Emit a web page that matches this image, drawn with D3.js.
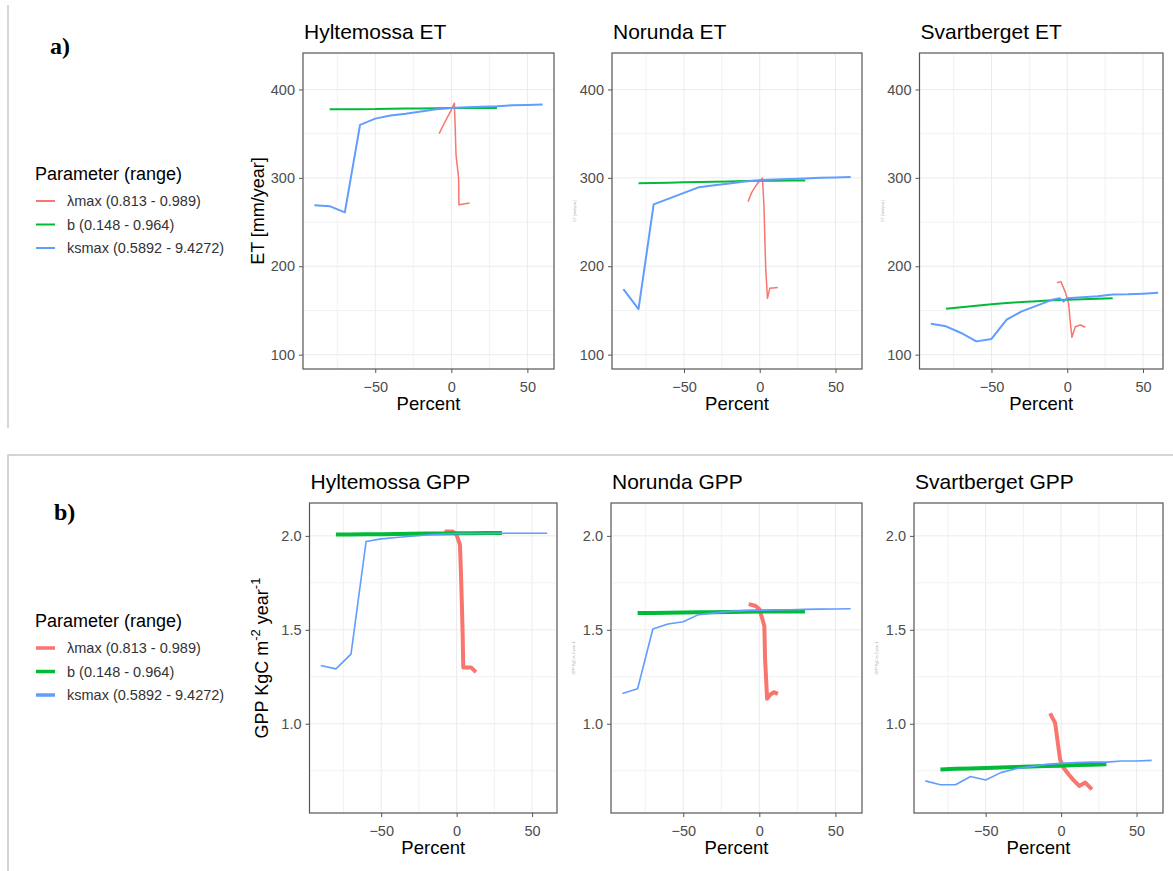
<!DOCTYPE html>
<html>
<head>
<meta charset="utf-8">
<script src="https://cdn.jsdelivr.net/npm/d3@7"></script>
<style>
  body { margin: 0; background: #fff; }
  svg { font-family: "Liberation Sans", Arial, sans-serif; }
</style>
</head>
<body>
<div id="wrapper"></div>
<script>
// ---- data ----
const sites = ["Hyltemossa", "Norunda", "Svartberget"];
const paramLabels = ["λmax (0.813 - 0.989)", "b (0.148 - 0.964)", "ksmax (0.5892 - 9.4272)"];
const paramColors = ["#F8766D", "#00BA38", "#619CFF"];

const ksX = [-90, -80, -70, -60, -50, -40, -30, -20, -10, 0, 10, 20, 30, 40, 50, 60];
const bX = [-80, -70, -60, -50, -40, -30, -20, -10, 0, 10, 20, 30];

// ET [mm/year]
const hylET_ks = [269, 268, 261, 360, 367, 370.5, 372.5, 375, 377.5, 379, 380, 380.5, 381, 382, 382.5, 383];
const hylET_b = [377.5, 377.6, 377.7, 377.8, 378.3, 378.5, 378.6, 378.8, 379, 379, 379, 379];
const hylET_lamX = [-8, -4, 0, 2, 2.6, 3.1, 3.6, 4.8, 5, 8, 12];
const hylET_lam = [350, 364, 377, 384.5, 354, 326, 318, 300, 269.5, 270.5, 271.5];

const noET_ks = [174, 151.5, 270, 276.5, 283, 289.5, 291.7, 293.6, 296, 297.4, 298, 298.6, 299.2, 300, 300.5, 301];
const noET_b = [294, 294.3, 294.6, 295, 295.3, 295.6, 296, 296.3, 296.6, 296.8, 297, 297];
const noET_lamX = [-7.7, -5.5, -3, 0, 1.8, 2.8, 3.9, 5.1, 6.6, 12];
const noET_lam = [273, 282.7, 290, 297, 299.6, 267.5, 199.6, 163.7, 175, 176];

const svET_ksX = [-90, -80, -70, -60, -50, -40, -30, -20, -10, -5, -2.4, 0, 10, 20, 30, 40, 50, 60];
const svET_ks = [135, 132, 124.5, 115, 117.7, 139.6, 149, 155.5, 162, 163.8, 160, 163.8, 165, 166, 168, 168.3, 169, 170];
const svET_b = [152, 153.5, 155.3, 157, 158.5, 159.5, 160.5, 161.5, 162.2, 162.8, 163.3, 163.8];
const svET_lamX = [-6.8, -4.2, -1.3, 0.9, 2, 3.1, 5.3, 8.6, 11.9];
const svET_lam = [181.4, 182.6, 171, 158, 137.3, 119.6, 131.6, 133.5, 131];

// GPP [KgC m-2 year-1]
const hylGPP_ks = [1.31, 1.292, 1.371, 1.97, 1.984, 1.991, 1.998, 2.005, 2.01, 2.012, 2.013, 2.013, 2.014, 2.014, 2.014, 2.014];
const hylGPP_b = [2.007, 2.008, 2.009, 2.009, 2.01, 2.011, 2.012, 2.013, 2.014, 2.014, 2.015, 2.015];
const hylGPP_lamX = [-8, -2.6, 0, 2.2, 2.9, 3.5, 4, 4.4, 6.2, 9.5, 12.8];
const hylGPP_lam = [2.023, 2.023, 2.005, 1.952, 1.794, 1.627, 1.468, 1.3, 1.3, 1.3, 1.275];

const noGPP_ks = [1.161, 1.186, 1.504, 1.531, 1.543, 1.581, 1.589, 1.598, 1.602, 1.604, 1.606, 1.607, 1.609, 1.61, 1.611, 1.612];
const noGPP_b = [1.589, 1.59, 1.591, 1.592, 1.593, 1.594, 1.595, 1.596, 1.597, 1.597, 1.598, 1.598];
const noGPP_lamX = [-7, -2.7, 0, 1.8, 3.3, 3.8, 4.7, 5.1, 7.3, 9.6, 12.2];
const noGPP_lam = [1.637, 1.628, 1.61, 1.563, 1.52, 1.342, 1.2, 1.133, 1.156, 1.168, 1.159];

const svGPP_ks = [0.696, 0.675, 0.675, 0.719, 0.701, 0.74, 0.761, 0.772, 0.784, 0.789, 0.793, 0.796, 0.796, 0.802, 0.802, 0.805];
const svGPP_b = [0.757, 0.76, 0.762, 0.765, 0.767, 0.77, 0.772, 0.775, 0.777, 0.78, 0.782, 0.784];
const svGPP_lamX = [-7.3, -4, -2.2, -0.7, 1.6, 4.9, 8.2, 12, 16, 20.4];
const svGPP_lam = [1.055, 1.005, 0.899, 0.81, 0.766, 0.731, 0.7, 0.669, 0.687, 0.651];

const xTicks = [-50, 0, 50];
const xGrid = [-75, -50, -25, 0, 25, 50];
const etTicks = [100, 200, 300, 400];
const etGrid = [100, 150, 200, 250, 300, 350, 400];
const gppTicks = [1.0, 1.5, 2.0];
const gppGrid = [0.75, 1.0, 1.25, 1.5, 1.75, 2.0];

const zip = (xs, ys) => xs.map((x, i) => [x, ys[i]]);

// ---- layout ----
const width = 1173, height = 871;
const svg = d3.select("#wrapper").append("svg")
  .attr("width", width).attr("height", height);

svg.append("rect").attr("width", width).attr("height", height).attr("fill", "#fff");

// frame lines around the a) / b) blocks
svg.append("line").attr("x1", 8).attr("x2", 8).attr("y1", 5).attr("y2", 428)
  .attr("stroke", "#c8c8c8").attr("stroke-width", 1.5);
svg.append("path").attr("d", `M8,871 V455 H${width}`)
  .attr("fill", "none").attr("stroke", "#c8c8c8").attr("stroke-width", 1.5);

svg.append("text").attr("x", 50).attr("y", 54).text("a)")
  .attr("font-family", "'Liberation Serif', 'Times New Roman', serif")
  .attr("font-weight", "bold").attr("font-size", 24);
svg.append("text").attr("x", 54).attr("y", 520).text("b)")
  .attr("font-family", "'Liberation Serif', 'Times New Roman', serif")
  .attr("font-weight", "bold").attr("font-size", 24);

const rows = [
  {
    key: "ET", top: 53, bottom: 369, yDomain: [83.75, 441.25], ticks: etTicks, grid: etGrid,
    fmt: d3.format("d"), widths: [1.5, 2, 2], legendY: 180, legendW: 2,
    boxes: [[303, 554, -97.5, 67.5], [612, 862, -97.5, 67.5], [919.5, 1163, -97.5, 63.2]],
    series: [
      [zip(hylET_lamX, hylET_lam), zip(bX, hylET_b), zip(ksX, hylET_ks)],
      [zip(noET_lamX, noET_lam), zip(bX, noET_b), zip(ksX, noET_ks)],
      [zip(svET_lamX, svET_lam), zip(bX, svET_b), zip(svET_ksX, svET_ks)]
    ]
  },
  {
    key: "GPP", top: 503, bottom: 813, yDomain: [0.525, 2.175], ticks: gppTicks, grid: gppGrid,
    fmt: d3.format(".1f"), widths: [4, 4, 1.6], legendY: 627, legendW: 3.5,
    boxes: [[309.5, 557, -97.5, 66.5], [611, 862, -97.5, 67.5], [914, 1163, -97.5, 67.5]],
    series: [
      [zip(hylGPP_lamX, hylGPP_lam), zip(bX, hylGPP_b), zip(ksX, hylGPP_ks)],
      [zip(noGPP_lamX, noGPP_lam), zip(bX, noGPP_b), zip(ksX, noGPP_ks)],
      [zip(svGPP_lamX, svGPP_lam), zip(bX, svGPP_b), zip(ksX, svGPP_ks)]
    ]
  }
];

rows.forEach(row => {
  const y = d3.scaleLinear().domain(row.yDomain).range([row.bottom, row.top]);

  row.boxes.forEach((box, i) => {
    const [x0, x1, d0, d1] = box;
    const x = d3.scaleLinear().domain([d0, d1]).range([x0, x1]);
    const g = svg.append("g");

    // grid
    g.selectAll(".gx").data(xGrid).join("line")
      .attr("x1", d => x(d)).attr("x2", d => x(d))
      .attr("y1", row.top).attr("y2", row.bottom)
      .attr("stroke", d => xTicks.includes(d) ? "#ebebeb" : "#f2f2f2").attr("stroke-width", 1);
    g.selectAll(".gy").data(row.grid).join("line")
      .attr("x1", x0).attr("x2", x1)
      .attr("y1", d => y(d)).attr("y2", d => y(d))
      .attr("stroke", d => row.ticks.includes(d) ? "#ebebeb" : "#f2f2f2").attr("stroke-width", 1);

    // lines
    const line = d3.line().x(d => x(d[0])).y(d => y(d[1]));
    row.series[i].forEach((pts, k) => {
      g.append("path").datum(pts)
        .attr("d", line)
        .attr("fill", "none")
        .attr("stroke", paramColors[k])
        .attr("stroke-width", row.widths[k])
        .attr("stroke-linejoin", "round")
        .attr("stroke-linecap", "butt");
    });

    // border
    g.append("rect").attr("x", x0).attr("y", row.top)
      .attr("width", x1 - x0).attr("height", row.bottom - row.top)
      .attr("fill", "none").attr("stroke", "#555").attr("stroke-width", 1.2);

    // axes
    const ax = g.append("g").attr("transform", `translate(0,${row.bottom})`)
      .call(d3.axisBottom(x).tickValues(xTicks).tickSize(4).tickPadding(4).tickFormat(d3.format("d")));
    const ay = g.append("g").attr("transform", `translate(${x0},0)`)
      .call(d3.axisLeft(y).tickValues(row.ticks).tickSize(4).tickPadding(4).tickFormat(row.fmt));
    [ax, ay].forEach(a => {
      a.select(".domain").remove();
      a.selectAll(".tick line").attr("stroke", "#555");
      a.selectAll(".tick text").attr("fill", "#4d4d4d").attr("font-size", 14.5)
        .attr("font-family", "'Liberation Sans', Arial, sans-serif");
    });
    ax.selectAll(".tick text").attr("dy", "1.05em");

    // titles
    g.append("text").attr("x", x0 + 1).attr("y", row.top - 14)
      .attr("font-size", 21).attr("fill", "#000")
      .text(`${sites[i]} ${row.key}`);
    g.append("text").attr("x", (x0 + x1) / 2).attr("y", row.bottom + 41)
      .attr("text-anchor", "middle").attr("font-size", 18.5).attr("fill", "#000")
      .text("Percent");

    // y-axis labels: full on first panel, tiny faint leftovers on the others
    const cy = (row.top + row.bottom) / 2;
    if (i === 0) {
      const t = g.append("text")
        .attr("transform", `translate(${row.key === "ET" ? 264 : 268},${cy}) rotate(-90)`)
        .attr("text-anchor", "middle").attr("font-size", 18).attr("fill", "#000");
      if (row.key === "ET") {
        t.text("ET [mm/year]");
      } else {
        t.append("tspan").text("GPP KgC m");
        t.append("tspan").attr("dy", -8).attr("font-size", 13).text("-2");
        t.append("tspan").attr("dy", 8).text(" year");
        t.append("tspan").attr("dy", -8).attr("font-size", 13).text("-1");
      }
    } else {
      g.append("text")
        .attr("transform", `translate(${x0 - 36},${cy}) rotate(-90)`)
        .attr("text-anchor", "middle").attr("font-size", 3.5).attr("fill", "#aaa")
        .text(row.key === "ET" ? "ET [mm/year]" : "GPP KgC m-2 year-1");
    }
  });

  // legend
  const lg = svg.append("g").attr("transform", `translate(35,${row.legendY})`);
  lg.append("text").attr("x", 0).attr("y", 0).attr("font-size", 18).attr("fill", "#000")
    .text("Parameter (range)");
  lg.selectAll(".key").data(paramLabels).join("line")
    .attr("x1", 1).attr("x2", 20)
    .attr("y1", (d, k) => 21 + k * 23.5).attr("y2", (d, k) => 21 + k * 23.5)
    .attr("stroke", (d, k) => paramColors[k]).attr("stroke-width", row.legendW);
  lg.selectAll(".lab").data(paramLabels).join("text")
    .attr("x", 32).attr("y", (d, k) => 26 + k * 23.5)
    .attr("font-size", 14.5).attr("fill", "#333")
    .text(d => d);
});
</script>
</body>
</html>
